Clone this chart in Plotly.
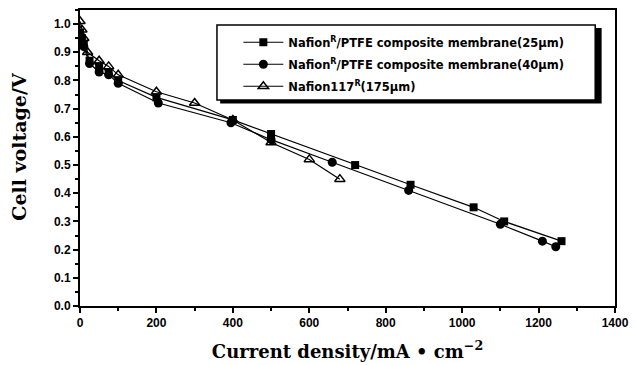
import plotly.graph_objects as go

# Data
x_25 = [0, 5, 10, 25, 50, 75, 100, 200, 400, 500, 720, 865, 1030, 1110, 1260]
y_25 = [0.97, 0.95, 0.93, 0.87, 0.85, 0.83, 0.80, 0.74, 0.66, 0.61, 0.50, 0.43, 0.35, 0.30, 0.23]

x_40 = [0, 10, 25, 50, 75, 100, 205, 395, 500, 660, 860, 1100, 1210, 1245]
y_40 = [0.96, 0.92, 0.86, 0.83, 0.82, 0.79, 0.72, 0.65, 0.59, 0.51, 0.41, 0.29, 0.23, 0.21]

x_117 = [0, 5, 10, 20, 50, 75, 100, 200, 300, 400, 500, 600, 680]
y_117 = [1.01, 0.98, 0.95, 0.90, 0.87, 0.85, 0.82, 0.76, 0.72, 0.66, 0.58, 0.52, 0.45]

names = ["Nafion<sup>R</sup>/PTFE composite membrane(25μm)",
         "Nafion<sup>R</sup>/PTFE composite membrane(40μm)",
         "Nafion117<sup>R</sup>(175μm)"]

x_ticks = [0, 200, 400, 600, 800, 1000, 1200, 1400]
y_ticks = [0.0, 0.1, 0.2, 0.3, 0.4, 0.5, 0.6, 0.7, 0.8, 0.9, 1.0]

x_title = "Current density/mA • cm<sup>−2</sup>"
y_title = "Cell voltage/V"

fig = go.Figure()
fig.add_trace(go.Scatter(x=x_25, y=y_25, name=names[0], mode="lines+markers", legendgroup="a",
                         line=dict(color="black", width=1.2),
                         marker=dict(symbol="square", size=8, color="black")))
fig.add_trace(go.Scatter(x=x_40, y=y_40, name=names[1], mode="lines+markers", legendgroup="b",
                         line=dict(color="black", width=1.2),
                         marker=dict(symbol="circle", size=9, color="black")))
fig.add_trace(go.Scatter(x=x_117, y=y_117, name=names[2], mode="lines+markers", legendgroup="c",
                         line=dict(color="black", width=1.2),
                         marker=dict(symbol="triangle-up-open", size=9, color="black",
                                     line=dict(width=1.5, color="black"))))

tickfont = dict(family="Liberation Sans, Arial", size=12, color="black", weight="bold")
titlefont = dict(family="DejaVu Serif, serif", size=18, color="black", weight="bold")

fig.update_layout(
    width=629, height=357,
    margin=dict(l=72, r=22, t=2, b=59),
    paper_bgcolor="white", plot_bgcolor="white",
    showlegend=True,
    legend=dict(x=0.296, y=0.94, xanchor="left", yanchor="top",
                bgcolor="rgba(0,0,0,0)", borderwidth=0,
                font=dict(family="DejaVu Sans, sans-serif", size=11.5, color="black", weight="bold"),
                tracegroupgap=3, itemwidth=40),
    xaxis=dict(range=[0, 1400], tickvals=x_ticks, ticktext=[str(v) for v in x_ticks],
               showgrid=False, zeroline=False, showline=True, linecolor="black", linewidth=2,
               mirror=True, ticks="outside", ticklen=5, tickwidth=1.5, tickcolor="black",
               minor=dict(dtick=100, ticks="outside", ticklen=3, tickcolor="black"),
               tickfont=tickfont, automargin=False,
               title=dict(text=x_title, font=titlefont, standoff=16)),
    yaxis=dict(range=[0, 1.05], tickvals=y_ticks, ticktext=["%.1f" % v for v in y_ticks],
               showgrid=False, zeroline=False, showline=True, linecolor="black", linewidth=2,
               mirror=True, ticks="outside", ticklen=5, tickwidth=1.5, tickcolor="black",
               minor=dict(dtick=0.05, ticks="outside", ticklen=3, tickcolor="black"),
               tickfont=tickfont, automargin=False),
)

fig.add_annotation(text=y_title, textangle=-90, xref="paper", yref="paper",
                   x=-0.113, y=0.54, xanchor="center", yanchor="middle", showarrow=False,
                   font=dict(family="DejaVu Serif, serif", size=19, color="black", weight="bold"))

# legend box with shadow
fig.add_shape(type="rect", xref="paper", yref="paper",
              x0=0.262, x1=0.975, y0=0.684, y1=0.939,
              fillcolor="black", line=dict(width=0), layer="above")
fig.add_shape(type="rect", xref="paper", yref="paper",
              x0=0.256, x1=0.963, y0=0.696, y1=0.949,
              fillcolor="white", line=dict(color="black", width=1.5), layer="above")

fig.write_html("out.html")
